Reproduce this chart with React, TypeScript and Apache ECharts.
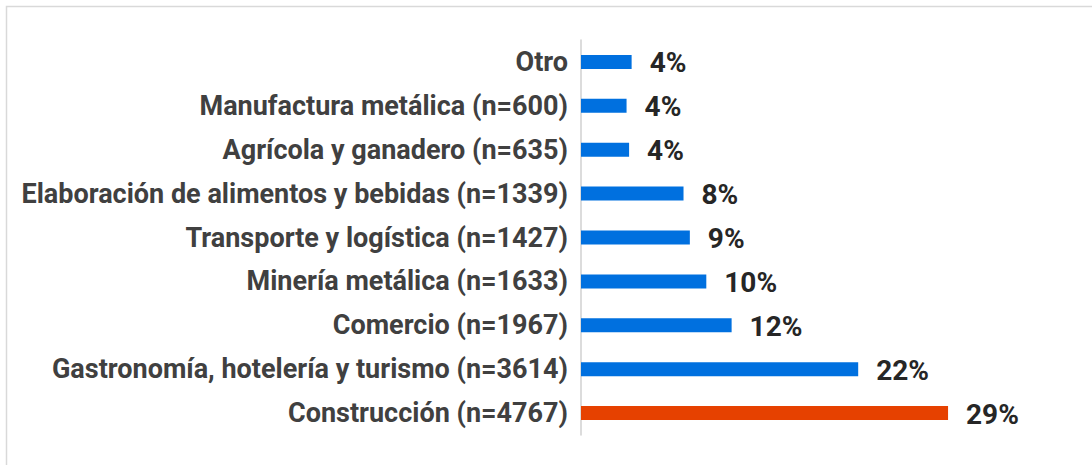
import React, { useEffect, useRef } from "react";
import * as echarts from "echarts";

const categories = [
  "Construcción (n=4767)",
  "Gastronomía, hotelería y turismo (n=3614)",
  "Comercio (n=1967)",
  "Minería metálica (n=1633)",
  "Transporte y logística (n=1427)",
  "Elaboración de alimentos y bebidas (n=1339)",
  "Agrícola y ganadero (n=635)",
  "Manufactura metálica (n=600)",
  "Otro",
];
const values = [29.0, 21.9, 11.9, 9.9, 8.6, 8.1, 3.8, 3.6, 4.0];
const labels = ["29%", "22%", "12%", "10%", "9%", "8%", "4%", "4%", "4%"];
const highlight = ["Construcción (n=4767)"];

export default function App() {
  const ref = useRef<HTMLDivElement>(null);
  useEffect(() => {
    document.body.style.margin = "0";
    const chart = echarts.init(ref.current!, null, { renderer: "svg" });
    chart.setOption({
      animation: false,
      textStyle: { fontFamily: "Roboto" },
      graphic: [
        {
          type: "rect",
          shape: { x: 6.5, y: 6.5, width: 1100, height: 470 },
          style: { fill: "none", stroke: "#d9d9d9", lineWidth: 1.5 },
          silent: true,
        },
      ],
      grid: { left: 581, top: 40, height: 395, width: 443 },
      xAxis: {
        type: "value",
        min: 0,
        max: 35,
        show: false,
      },
      yAxis: {
        type: "category",
        data: categories,
        axisLine: { show: true, lineStyle: { color: "#d0d0d0", width: 1.5 } },
        axisTick: { show: false },
        axisLabel: {
          margin: 13,
          fontSize: 27,
          fontWeight: "bold",
          color: "#404040",
          fontFamily: "Roboto",
        },
      },
      series: [
        {
          type: "bar",
          barWidth: 14,
          data: values.map((v, i) => ({
            value: v,
            itemStyle: {
              color: highlight.includes(categories[i]) ? "#e64100" : "#0070df",
            },
          })),
          label: {
            show: true,
            position: "right",
            distance: 18,
            offset: [0, 1],
            fontSize: 28,
            fontWeight: "bold",
            color: "#262626",
            fontFamily: "Roboto",
            formatter: (p: any) => labels[p.dataIndex],
          },
        },
      ],
    });
    return () => chart.dispose();
  }, []);
  return <div ref={ref} style={{ width: 1092, height: 465 }} />;
}
